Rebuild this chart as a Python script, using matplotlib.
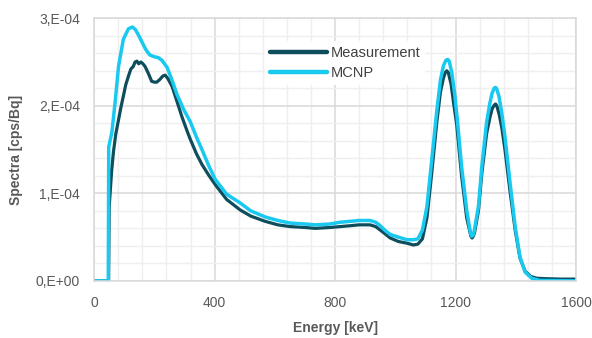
import numpy as np
import matplotlib
matplotlib.use("Agg")
import matplotlib.pyplot as plt
from matplotlib.ticker import MultipleLocator

plt.rcParams['font.family'] = ['Liberation Sans', 'DejaVu Sans']

# energy [keV] / spectra [1e-4 cps/Bq]
meas_e = [0, 45, 48, 50, 53, 58, 64, 72, 81, 90, 97, 105, 114, 122, 130, 136, 142, 148, 155,
          162, 169, 180, 191, 200, 208, 218, 228, 236, 245, 259, 275, 292, 310, 319, 340, 358,
          380, 402, 440, 485, 520, 568, 610, 651, 700, 734, 784, 817, 850, 880, 916, 935, 950,
          965, 983, 1010, 1039, 1060, 1075, 1090, 1105, 1120, 1138, 1150, 1160, 1166, 1171,
          1176, 1185, 1194, 1204, 1220, 1237, 1245, 1251, 1255, 1259, 1263, 1276, 1287, 1303,
          1315, 1322, 1329, 1333, 1337, 1345, 1354, 1364, 1381, 1398, 1414, 1431, 1450, 1470,
          1500, 1550, 1600]
meas_v = [0, 0, 0, 0.85, 1.0, 1.25, 1.47, 1.68, 1.84, 2.0, 2.11, 2.24, 2.34, 2.42, 2.45, 2.50,
          2.51, 2.48, 2.50, 2.48, 2.45, 2.37, 2.28, 2.27, 2.27, 2.30, 2.34, 2.35, 2.31, 2.22,
          2.05, 1.87, 1.70, 1.62, 1.45, 1.33, 1.21, 1.10, 0.93, 0.81, 0.74, 0.68, 0.64, 0.62,
          0.61, 0.60, 0.61, 0.62, 0.63, 0.64, 0.64, 0.62, 0.58, 0.54, 0.49, 0.45, 0.43, 0.41,
          0.42, 0.48, 0.72, 1.20, 1.82, 2.16, 2.32, 2.38, 2.40, 2.38, 2.25, 2.02, 1.78, 1.20,
          0.72, 0.60, 0.51, 0.49, 0.51, 0.55, 0.80, 1.22, 1.68, 1.88, 1.97, 2.01, 2.02, 2.00,
          1.90, 1.74, 1.50, 1.02, 0.58, 0.26, 0.11, 0.05, 0.03, 0.025, 0.02, 0.02]

mcnp_e = [0, 47, 48.5, 59, 70, 81, 97, 114, 127, 137, 147, 160, 172, 185, 200, 213, 225, 242,
          258, 275, 297, 319, 340, 358, 380, 402, 440, 485, 520, 568, 610, 651, 700, 734, 784,
          817, 850, 880, 916, 935, 950, 965, 983, 1010, 1039, 1060, 1075, 1090, 1105, 1120,
          1138, 1150, 1160, 1168, 1174, 1179, 1188, 1197, 1206, 1220, 1237, 1244, 1250, 1254,
          1258, 1262, 1276, 1287, 1303, 1314, 1321, 1328, 1332, 1336, 1344, 1353, 1364, 1381,
          1398, 1414, 1431, 1453, 1480, 1600]
mcnp_v = [0, 0, 1.53, 1.70, 2.05, 2.45, 2.76, 2.88, 2.90, 2.87, 2.81, 2.72, 2.64, 2.58, 2.56,
          2.55, 2.52, 2.44, 2.30, 2.13, 1.96, 1.82, 1.64, 1.50, 1.32, 1.16, 0.99, 0.89, 0.80,
          0.73, 0.69, 0.66, 0.65, 0.64, 0.65, 0.67, 0.68, 0.69, 0.69, 0.67, 0.63, 0.58, 0.53,
          0.50, 0.47, 0.47, 0.48, 0.58, 0.85, 1.35, 1.95, 2.30, 2.46, 2.52, 2.53, 2.51, 2.37,
          2.14, 1.84, 1.31, 0.81, 0.66, 0.54, 0.51, 0.52, 0.57, 0.85, 1.30, 1.81, 2.03, 2.14,
          2.20, 2.21, 2.20, 2.11, 1.93, 1.65, 1.12, 0.62, 0.27, 0.10, 0.03, 0.005, 0.0]

ytick_vals = [0, 1e-4, 2e-4, 3e-4]
ytick_labels = ['0,E+00', '1,E-04', '2,E-04', '3,E-04']
xtick_vals = [0, 400, 800, 1200, 1600]

fig = plt.figure(figsize=(5.92, 3.38), dpi=100)
ax = fig.add_axes([0.159, 0.169, 0.814, 0.777])

ax.plot(meas_e, np.array(meas_v) * 1e-4, color='#0e4d5c', lw=2.3, label='Measurement',
        solid_joinstyle='round', solid_capstyle='round')
ax.plot(mcnp_e, np.array(mcnp_v) * 1e-4, color='#19c9f0', lw=2.5, label='MCNP',
        solid_joinstyle='round', solid_capstyle='round')

ax.set_xlim(0, 1600)
ax.set_ylim(0, 3e-4)
ax.set_xticks(xtick_vals)
ax.set_yticks(ytick_vals)
ax.set_yticklabels(ytick_labels)
ax.xaxis.set_minor_locator(MultipleLocator(80))
ax.yaxis.set_minor_locator(MultipleLocator(2e-5))
ax.grid(which='major', color='#d9d9d9', lw=1.1)
ax.grid(which='minor', color='#efefef', lw=1.0)
ax.set_axisbelow(True)
ax.tick_params(which='both', length=0, labelsize=10, colors='#595959')
ax.tick_params(axis='y', pad=10)
ax.tick_params(axis='x', pad=11)
for s in ax.spines.values():
    s.set_color('#d9d9d9')
    s.set_linewidth(1.1)

ax.set_xlabel('Energy [keV]', fontsize=10, fontweight='bold', color='#595959', labelpad=8)
ax.set_ylabel('Spectra [cps/Bq]', fontsize=10, fontweight='bold', color='#595959', labelpad=9)

leg = ax.legend(loc='upper left', bbox_to_anchor=(0.34, 0.94), frameon=True, fancybox=False,
                handlelength=3.9, handletextpad=0.3, labelspacing=0.45, fontsize=10.5,
                borderpad=0.3)
leg.get_frame().set_facecolor('white')
leg.get_frame().set_edgecolor('none')
leg.get_frame().set_alpha(1)
for t in leg.get_texts():
    t.set_color('#404040')
for l in leg.get_lines():
    l.set_linewidth(3.2)

fig.savefig('out.png', dpi=100)
